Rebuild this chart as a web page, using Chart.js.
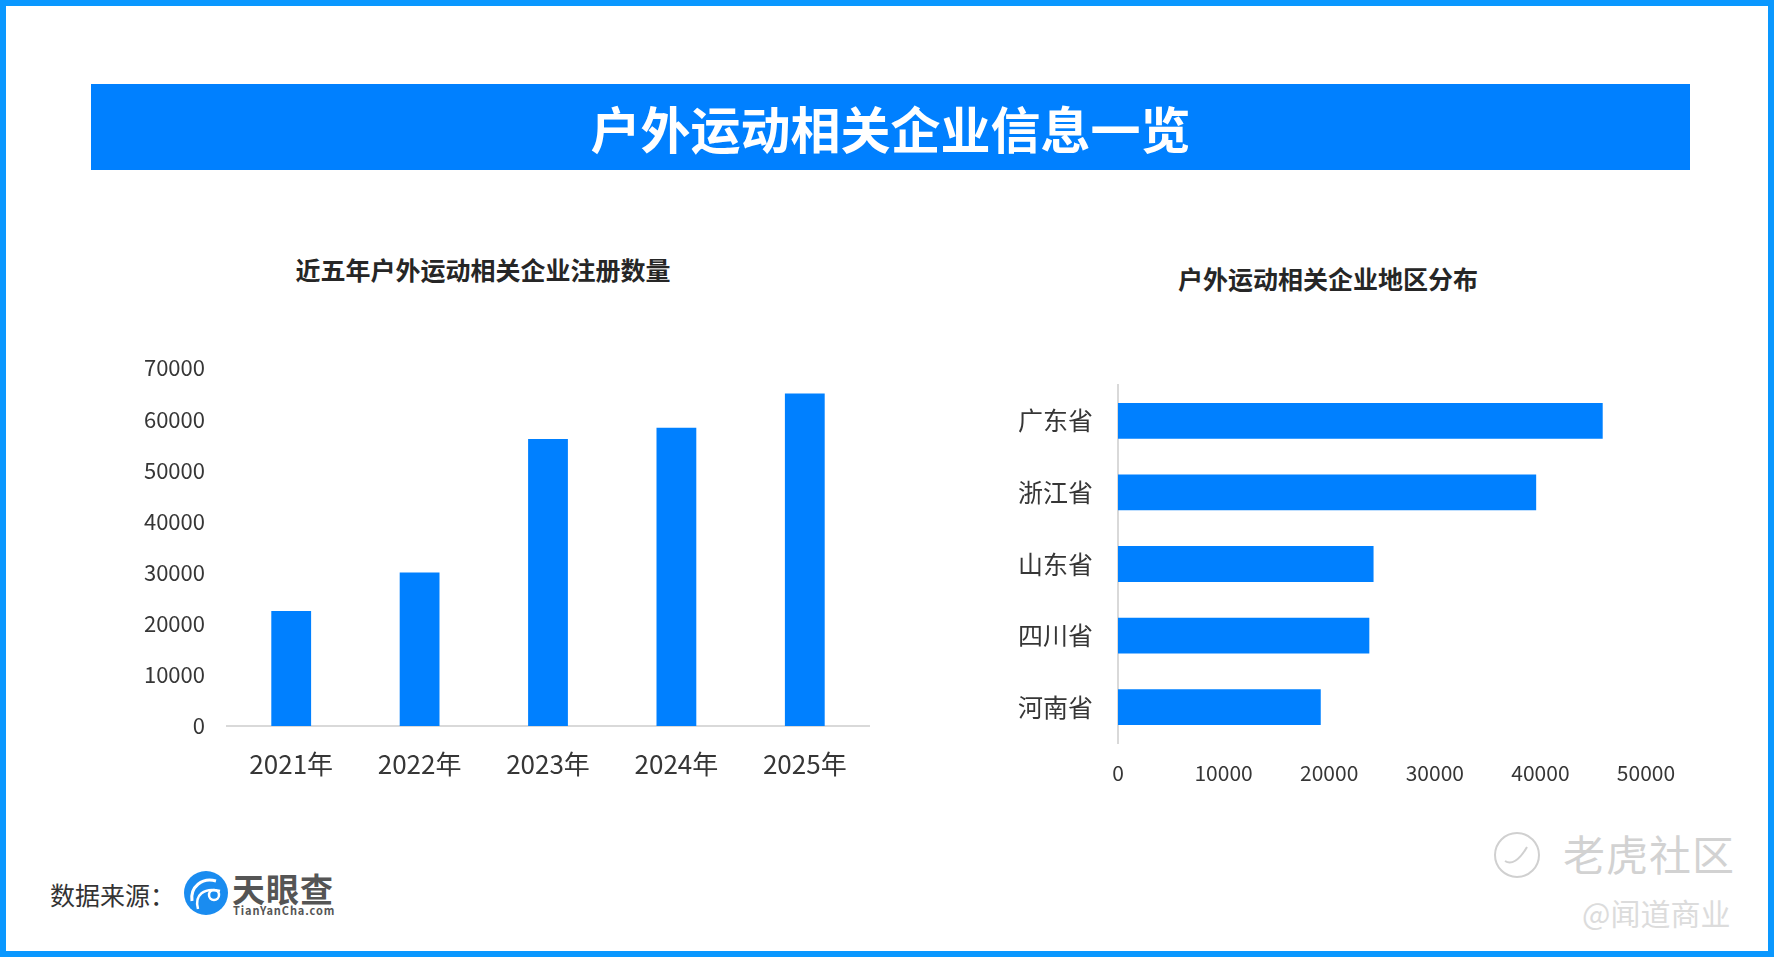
<!DOCTYPE html>
<html>
<head>
<meta charset="utf-8">
<script src="https://cdn.jsdelivr.net/npm/chart.js@4.4.1/dist/chart.umd.min.js"></script>
<style>
  html, body { margin:0; padding:0; background:#fff; }
  body { width:1774px; height:957px; position:relative; overflow:hidden;
         font-family:"Microsoft YaHei","Noto Sans CJK SC","Noto Sans",sans-serif; }
  #frame { position:absolute; left:0; top:0; width:1774px; height:957px; box-sizing:border-box;
           border:6px solid #0A98FF; }
  #banner { position:absolute; left:91px; top:84px; width:1599px; height:86px; background:#0080FF;
            color:#fff; font-weight:700; font-size:50px; line-height:86px; text-align:center; letter-spacing:0px; }
  .ctitle { position:absolute; font-weight:700; font-size:25px; color:#262626; white-space:nowrap;
            transform:translate(-50%,-50%); }
  .box { position:absolute; }
  #src { position:absolute; left:50px; top:894px; transform:translateY(-50%); font-size:25px; color:#333; }
  #logoTxt { position:absolute; left:232px; top:872px; font-size:33px; font-weight:700; color:#555; line-height:33px; letter-spacing:1px; }
  #logoSub { position:absolute; left:233px; top:904px; font-size:11px; font-weight:700; color:#555; letter-spacing:0.9px; line-height:12px; }
  #wm1 { position:absolute; left:1563px; top:852px; transform:translateY(-50%); font-size:42px; color:#d2d2d2; letter-spacing:1px; }
  #wm2 { position:absolute; left:1582px; top:912px; transform:translateY(-50%); font-size:30px; color:#dcdcdc; }
</style>
</head>
<body>
<div id="frame"></div>
<div id="banner">户外运动相关企业信息一览</div>

<div class="ctitle" style="left:483px; top:269px;">近五年户外运动相关企业注册数量</div>
<div class="ctitle" style="left:1328px; top:278px;">户外运动相关企业地区分布</div>

<div class="box" style="left:100px; top:300px; width:800px; height:520px;"><canvas id="c1"></canvas></div>
<div class="box" style="left:1000px; top:300px; width:760px; height:520px;"><canvas id="c2"></canvas></div>

<div id="src">数据来源：</div>
<svg style="position:absolute; left:184px; top:871px;" width="44" height="44" viewBox="0 0 44 44">
  <circle cx="22" cy="22" r="22" fill="#1A8CF0"/>
  <path d="M8 30 C 6 16, 18 6, 32 10" stroke="#fff" stroke-width="3" fill="none"/>
  <path d="M14 38 C 10 24, 20 16, 36 20" stroke="#fff" stroke-width="2.5" fill="none"/>
  <circle cx="30" cy="24" r="5" fill="none" stroke="#fff" stroke-width="2.5"/>
</svg>
<div id="logoTxt">天眼查</div>
<div id="logoSub">TianYanCha.com</div>

<svg style="position:absolute; left:1493px; top:831px;" width="48" height="48" viewBox="0 0 48 48">
  <circle cx="24" cy="24" r="22" fill="none" stroke="#d0d0d0" stroke-width="2"/>
  <path d="M12 30 C 18 34, 26 30, 34 16" stroke="#d0d0d0" stroke-width="2" fill="none"/>
</svg>
<div id="wm1">老虎社区</div>
<div id="wm2">@闻道商业</div>

<script>
// ---- data ----
const years = ['2021年', '2022年', '2023年', '2024年', '2025年'];
const registrations = [22500, 30000, 56100, 58300, 65000];

const provinces = ['广东省', '浙江省', '山东省', '四川省', '河南省'];
const provinceCounts = [45900, 39600, 24200, 23800, 19200];

const leftTicks = { min: 0, max: 70000, step: 10000 };
const rightTicks = { min: 0, max: 50000, step: 10000 };

// ---- styles ----
const FONT = '"Microsoft YaHei","Noto Sans CJK SC","Noto Sans",sans-serif';
const BAR = '#0080FF';
const AXIS = '#D9D9D9';
const TXT = '#363636';
Chart.defaults.font.family = FONT;
Chart.defaults.animation = false;
const plain = v => String(v);

new Chart(document.getElementById('c1'), {
  type: 'bar',
  data: { labels: years, datasets: [{ data: registrations, backgroundColor: BAR,
           barPercentage: 0.31, categoryPercentage: 1.0 }] },
  options: {
    responsive: true, maintainAspectRatio: false, animation: false,
    layout: { padding: { left: 0, right: 31, top: 68, bottom: 34 } },
    plugins: { legend: { display: false }, title: { display: false }, tooltip: { enabled: false } },
    scales: {
      x: {
        grid: { display: false, drawTicks: false },
        border: { display: true, color: AXIS, width: 2 },
        ticks: { color: TXT, font: { size: 26 }, padding: 23 },
        afterFit: s => { s.height = 60; }
      },
      y: {
        min: leftTicks.min, max: leftTicks.max,
        grid: { display: false, drawTicks: false },
        border: { display: false },
        ticks: { stepSize: leftTicks.step, color: TXT, font: { size: 22 }, padding: 22, callback: plain },
        afterFit: s => { s.width = 127; }
      }
    }
  }
});

new Chart(document.getElementById('c2'), {
  type: 'bar',
  data: { labels: provinces, datasets: [{ data: provinceCounts, backgroundColor: BAR,
           barPercentage: 0.5, categoryPercentage: 1.0 }] },
  options: {
    indexAxis: 'y',
    responsive: true, maintainAspectRatio: false, animation: false,
    layout: { padding: { left: 0, right: 114, top: 85, bottom: 17 } },
    plugins: { legend: { display: false }, title: { display: false }, tooltip: { enabled: false } },
    scales: {
      x: {
        min: rightTicks.min, max: rightTicks.max,
        grid: { display: false, drawTicks: false },
        border: { display: false },
        ticks: { stepSize: rightTicks.step, color: TXT, font: { size: 21 }, padding: 17, callback: plain },
        afterFit: s => { s.height = 60; }
      },
      y: {
        grid: { display: false, drawTicks: false },
        border: { display: true, color: AXIS, width: 2 },
        ticks: { color: TXT, font: { size: 25 }, padding: 25 },
        afterFit: s => { s.width = 118; }
      }
    }
  }
});
</script>
</body>
</html>
